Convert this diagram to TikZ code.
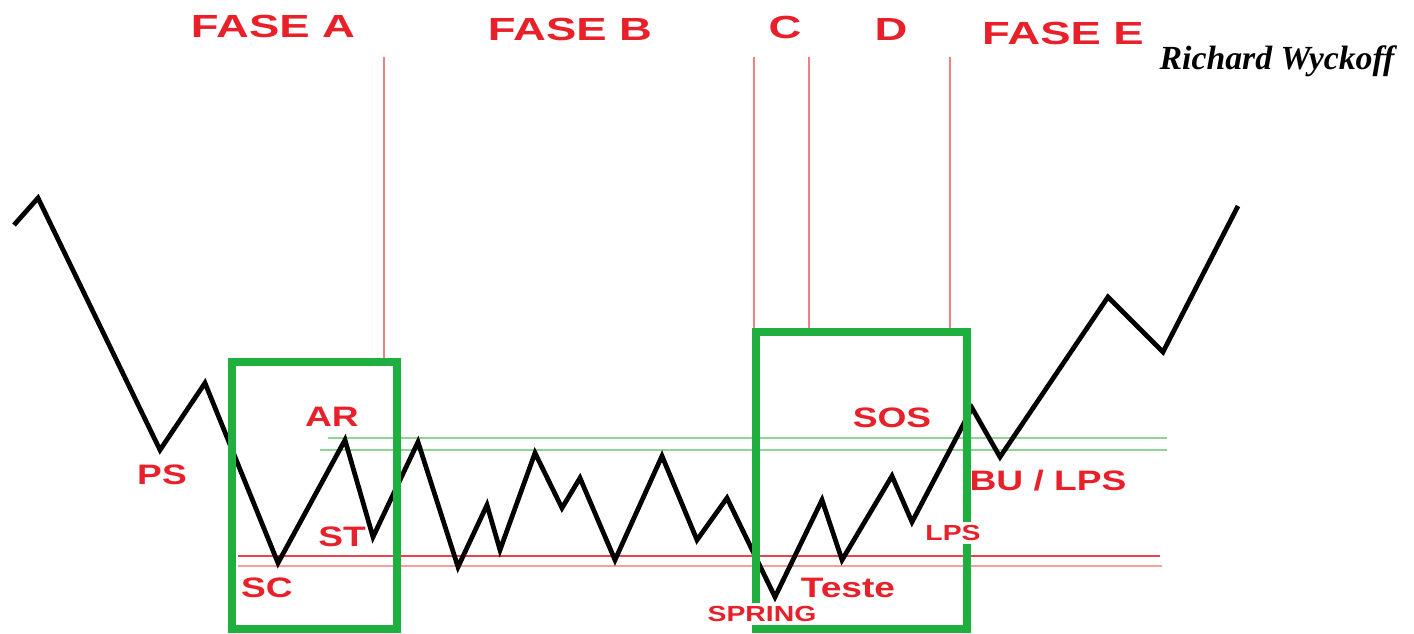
\documentclass[tikz,border=0pt]{standalone}
\usepackage{fontspec}
\setmainfont{Liberation Serif}
\setsansfont{Liberation Sans}
\usetikzlibrary{positioning}
\definecolor{wred}{HTML}{E8202A}
\definecolor{wlightred}{HTML}{F08080}
\definecolor{wpalered}{HTML}{F4A0A0}
\definecolor{wgreen}{HTML}{1FAF3F}
\definecolor{wlightgreen}{HTML}{90D49C}
\tikzset{
  fase/.style={text=wred, font=\sffamily\bfseries\fontsize{9.1}{10}\selectfont,
               xscale=1.42, transform shape, inner sep=0pt},
  evt/.style={text=wred, font=\sffamily\bfseries\fontsize{8}{9}\selectfont,
              xscale=1.32, transform shape, inner sep=0pt},
  evtsmall/.style={text=wred, font=\sffamily\bfseries\fontsize{6.2}{7}\selectfont,
                   xscale=1.3, transform shape, fill=white, inner sep=1pt},
  author/.style={font=\bfseries\itshape\fontsize{9.6}{11}\selectfont, inner sep=0pt},
  price/.style={black, line width=1.35pt},
  phasebox/.style={draw=wgreen, line width=2.3pt},
  divline/.style={wlightred, line width=0.65pt},
  resline/.style={wlightgreen, line width=0.65pt},
}

\begin{document}
\begin{tikzpicture}[x=0.01cm, y=-0.01cm]
  \useasboundingbox (0,0) rectangle (1414,634);

  %% Phase dividers
  \foreach \x/\y in {384/362, 754/332, 809/332, 950/332}{
    \draw[divline] (\x,57) -- (\x,\y);
  }

  %% Resistance (green) and support (red) levels
  \draw[resline] (328,438) -- (1167,438);
  \draw[resline] (320,450) -- (1167,450);
  \draw[wred!85, line width=0.75pt] (238,556) -- (1160,556);
  \draw[wpalered, line width=0.65pt] (238,566) -- (1162,566);

  %% Price path
  \draw[price] (14,225) -- (38,198) -- (160,450) -- (205,383) -- (278,563)
    -- (345,440) -- (373,537) -- (418,442) -- (458,567) -- (487,505)
    -- (500,550) -- (535,453) -- (562,508) -- (580,478) -- (615,560)
    -- (662,456) -- (697,540) -- (727,498) -- (775,597) -- (822,500)
    -- (842,560) -- (892,476) -- (912,522) -- (972,408) -- (1000,457)
    -- (1108,297) -- (1163,352) -- (1238,206);

  %% Phase boxes
  \draw[phasebox] (232,362) rectangle (397,629);
  \draw[phasebox] (756,332) rectangle (967,629);

  %% Phase titles
  \node[fase] (faseA) at (273,26) {FASE A};
  \node[fase] (faseB) at (570,29) {FASE B};
  \node[fase] (faseC) at (785,27) {C};
  \node[fase] (faseD) at (891,29) {D};
  \node[fase] (faseE) at (1063,33) {FASE E};
  \node[author] (wyckoff) at (1277,61) {Richard Wyckoff};

  %% Events
  \node[evt] (ps) at (162,475) {PS};
  \node[evt] (ar) at (332,417) {AR};
  \node[evt] (st) at (342,537) {ST};
  \node[evt] (sc) at (267,588) {SC};
  \node[evt] (sos) at (892,418) {SOS};
  \node[evt] (bu) at (1048,481) {BU / LPS};
  \node[evt] (teste) at (848,588) {Teste};
  \node[evtsmall] (lps) at (953,533) {LPS};
  \node[evtsmall] (spring) at (762,614) {SPRING};
\end{tikzpicture}
\end{document}
